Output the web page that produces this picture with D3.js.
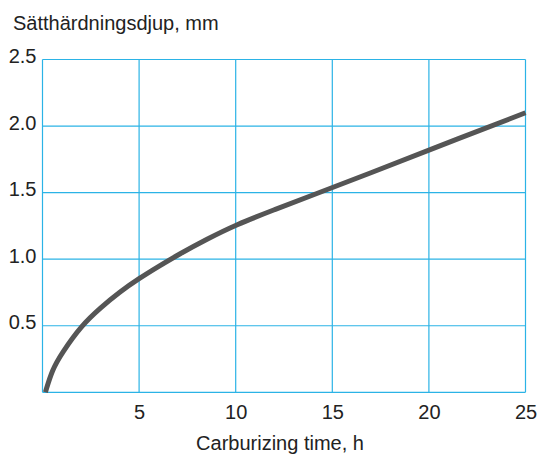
<!DOCTYPE html>
<html>
<head>
<meta charset="utf-8">
<script src="https://cdn.jsdelivr.net/npm/d3@7"></script>
<style>
  body { margin: 0; background: #fff; }
  text { font-family: "Liberation Sans", Arial, sans-serif; fill: #222; }
</style>
</head>
<body>
<div id="chart"></div>
<script>
// carburizing time (h) vs case depth (mm)
var hours = [0.15, 0.5, 1, 2, 3, 4, 5, 6, 7.1, 8.5, 10, 12, 14, 17, 20, 25];
var depth = [0, 0.17, 0.295, 0.50, 0.635, 0.755, 0.855, 0.945, 1.04, 1.15, 1.258, 1.372, 1.482, 1.648, 1.82, 2.10];
var xTicks = [5, 10, 15, 20, 25];
var yTicks = [0.5, 1.0, 1.5, 2.0, 2.5];
var yTitle = "Sätthärdningsdjup, mm";
var xTitle = "Carburizing time, h";

var width = 537, height = 454;
var margin = {left: 42.5, right: 11.5, top: 59.5, bottom: 61.7};

var svg = d3.select("#chart").append("svg")
    .attr("width", width)
    .attr("height", height);

var x = d3.scaleLinear().domain([0, 25]).range([margin.left, width - margin.right]);
var y = d3.scaleLinear().domain([0, 2.5]).range([height - margin.bottom, margin.top]);

var gridColor = "#2bb3e6";

// grid
var grid = svg.append("g");
grid.selectAll(".vx")
    .data([0].concat(xTicks))
    .enter().append("line")
    .attr("x1", function(d) { return x(d); })
    .attr("x2", function(d) { return x(d); })
    .attr("y1", y(0))
    .attr("y2", y(2.5))
    .attr("stroke", gridColor)
    .attr("stroke-width", 1.2);
grid.selectAll(".hy")
    .data([0].concat(yTicks))
    .enter().append("line")
    .attr("x1", x(0))
    .attr("x2", x(25))
    .attr("y1", function(d) { return y(d); })
    .attr("y2", function(d) { return y(d); })
    .attr("stroke", gridColor)
    .attr("stroke-width", 1.2);

// axes (labels only)
var xAxis = svg.append("g")
    .attr("transform", "translate(0," + y(0) + ")")
    .call(d3.axisBottom(x).tickValues(xTicks).tickSize(0).tickPadding(13));
xAxis.select(".domain").remove();
xAxis.selectAll("text")
    .style("font-size", "20px")
    .attr("fill", "#222");

var yAxis = svg.append("g")
    .attr("transform", "translate(" + x(0) + ",0)")
    .call(d3.axisLeft(y).tickValues(yTicks).tickSize(0).tickPadding(6).tickFormat(d3.format(".1f")));
yAxis.select(".domain").remove();
yAxis.selectAll("text")
    .style("font-size", "20px")
    .attr("dy", "0.15em")
    .attr("fill", "#222");

// titles
svg.append("text")
    .attr("x", 13)
    .attr("y", 30)
    .style("font-size", "20px")
    .text(yTitle);

svg.append("text")
    .attr("x", 280)
    .attr("y", 450)
    .attr("text-anchor", "middle")
    .style("font-size", "20px")
    .text(xTitle);

// curve
var line = d3.line()
    .x(function(d, i) { return x(hours[i]); })
    .y(function(d) { return y(d); })
    .curve(d3.curveBasis);

svg.append("path")
    .datum(depth)
    .attr("d", line)
    .attr("fill", "none")
    .attr("stroke", "#555555")
    .attr("stroke-width", 5);
</script>
</body>
</html>
